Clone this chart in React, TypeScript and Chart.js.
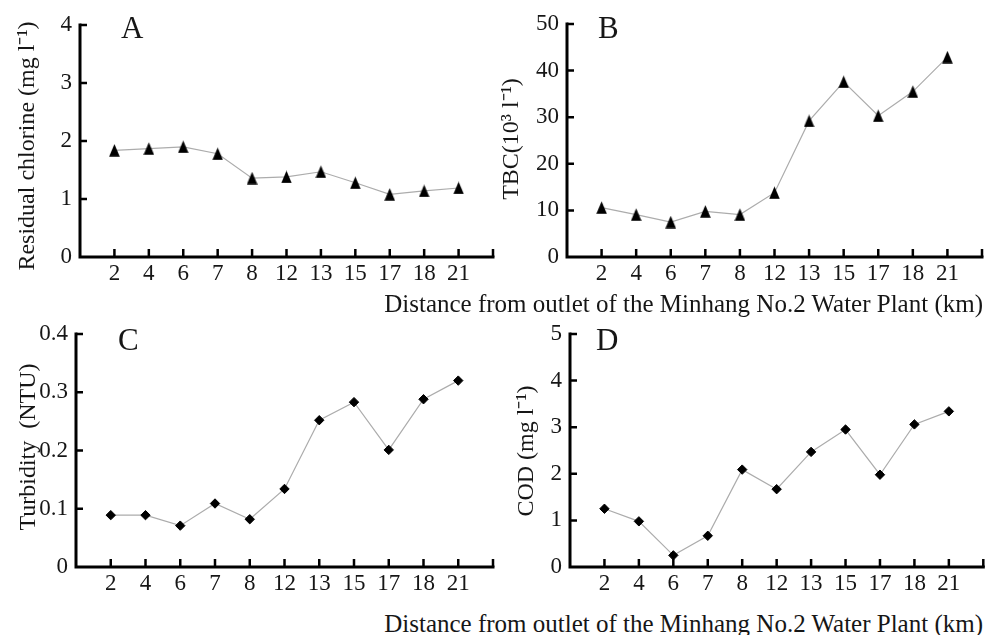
import React, { useEffect, useRef } from 'react';
import { Chart, registerables } from 'chart.js';

Chart.register(...registerables);

// x-axis categories: distance (km)
const categories = ['2', '4', '6', '7', '8', '12', '13', '15', '17', '18', '21'];

// series values
const residualChlorine = [1.84, 1.87, 1.9, 1.78, 1.36, 1.38, 1.47, 1.28, 1.08, 1.14, 1.19];
const tbc = [10.6, 9.1, 7.5, 9.8, 9.1, 13.8, 29.2, 37.6, 30.3, 35.5, 42.9];
const turbidity = [0.089, 0.089, 0.071, 0.109, 0.082, 0.134, 0.252, 0.283, 0.201, 0.288, 0.32];
const cod = [1.25, 0.98, 0.25, 0.67, 2.09, 1.67, 2.47, 2.95, 1.98, 3.06, 3.34];

const xTitle = 'Distance from outlet of the Minhang No.2 Water Plant (km)';

const FONT = '"Liberation Serif", "Times New Roman", serif';
const TEXT = '#161616';

type PanelCfg = {
  letter: string;
  yTitle: string;
  values: number[];
  yMax: number;
  yStep: number;
  marker: 'triangle' | 'rectRot';
  radius: number;
  box: { left: number; top: number; w: number; h: number };
  area: { left: number; top: number; right: number; bottom: number };
  letterPos: { x: number; y: number };
  titlePos: { x: number; y: number };
};

const panels: PanelCfg[] = [
  {
    letter: 'A', yTitle: 'Residual chlorine (mg l\u207B\u00B9)', values: residualChlorine,
    yMax: 4, yStep: 1, marker: 'triangle', radius: 6,
    box: { left: 0, top: 0, w: 500, h: 290 },
    area: { left: 80, top: 25, right: 497, bottom: 257 },
    letterPos: { x: 121, y: 38 }, titlePos: { x: 28, y: 146 },
  },
  {
    letter: 'B', yTitle: 'TBC(10\u00B3 l\u207B\u00B9)', values: tbc,
    yMax: 50, yStep: 10, marker: 'triangle', radius: 6,
    box: { left: 495, top: 0, w: 494, h: 290 },
    area: { left: 72, top: 24, right: 488, bottom: 257 },
    letterPos: { x: 103, y: 38 }, titlePos: { x: 17, y: 139 },
  },
  {
    letter: 'C', yTitle: 'Turbidity  (NTU)', values: turbidity,
    yMax: 0.4, yStep: 0.1, marker: 'rectRot', radius: 4.7,
    box: { left: 0, top: 300, w: 500, h: 300 },
    area: { left: 76, top: 34, right: 493, bottom: 267 },
    letterPos: { x: 118, y: 50 }, titlePos: { x: 29, y: 147 },
  },
  {
    letter: 'D', yTitle: 'COD (mg l\u207B\u00B9)', values: cod,
    yMax: 5, yStep: 1, marker: 'rectRot', radius: 4.7,
    box: { left: 495, top: 300, w: 494, h: 300 },
    area: { left: 75, top: 34, right: 490, bottom: 267 },
    letterPos: { x: 101, y: 50 }, titlePos: { x: 32, y: 151 },
  },
];

// tall isosceles triangle marker (shape only)
function makeTriangleMarker(): HTMLCanvasElement {
  const c = document.createElement('canvas');
  c.width = 11;
  c.height = 13;
  const g = c.getContext('2d')!;
  g.fillStyle = '#000';
  g.beginPath();
  g.moveTo(5.5, 0.3);
  g.lineTo(10.8, 12.7);
  g.lineTo(0.2, 12.7);
  g.closePath();
  g.fill();
  return c;
}

function Panel({ cfg }: { cfg: PanelCfg }) {
  const ref = useRef<HTMLCanvasElement | null>(null);

  useEffect(() => {
    if (!ref.current) return;
    const { box, area } = cfg;
    const pointStyle: any = cfg.marker === 'triangle' ? makeTriangleMarker() : 'rectRot';
    const decor = {
      id: 'decor',
      beforeDatasetsDraw(chart: any) {
        const { ctx, chartArea, scales } = chart;
        const { left, right, top, bottom } = chartArea;
        const x = scales.x;
        const y = scales.y;
        ctx.save();
        ctx.strokeStyle = '#000';
        ctx.lineWidth = 3;
        ctx.lineCap = 'square';
        ctx.beginPath();
        ctx.moveTo(left, top);
        ctx.lineTo(left, bottom);
        ctx.lineTo(right, bottom);
        ctx.stroke();
        ctx.lineWidth = 2.5;
        ctx.lineCap = 'butt';
        ctx.beginPath();
        const xs = [...x.ticks.map((t: any) => t.value), x.max];
        xs.forEach((v: number) => {
          const px = x.getPixelForValue(v);
          ctx.moveTo(px, bottom);
          ctx.lineTo(px, bottom - 8);
        });
        y.ticks.forEach((t: any) => {
          if (t.value === y.min) return;
          const py = y.getPixelForValue(t.value);
          ctx.moveTo(left, py);
          ctx.lineTo(left + 7, py);
        });
        ctx.stroke();
        ctx.restore();
      },
      afterDraw(chart: any) {
        const { ctx } = chart;
        ctx.save();
        ctx.fillStyle = TEXT;
        ctx.font = `31px ${FONT}`;
        ctx.textBaseline = 'alphabetic';
        ctx.textAlign = 'left';
        ctx.fillText(cfg.letter, cfg.letterPos.x, cfg.letterPos.y);
        ctx.restore();
        // rotated y-axis title
        ctx.save();
        ctx.fillStyle = TEXT;
        ctx.font = `24px ${FONT}`;
        ctx.textBaseline = 'middle';
        ctx.textAlign = 'center';
        ctx.translate(cfg.titlePos.x, cfg.titlePos.y);
        ctx.rotate(-Math.PI / 2);
        ctx.fillText(cfg.yTitle, 0, 0);
        ctx.restore();
      },
    };

    const chart = new Chart(ref.current, {
      type: 'line',
      data: {
        datasets: [
          {
            data: cfg.values.map((v, i) => ({ x: i + 1, y: v })),
            borderColor: '#acacac',
            borderWidth: 1.2,
            pointStyle,
            pointRadius: cfg.radius,
            pointBackgroundColor: '#000',
            pointBorderColor: '#000',
            pointBorderWidth: 1,
            tension: 0,
          },
        ],
      },
      options: {
        responsive: false,
        animation: false,
        events: [],
        layout: { padding: { top: area.top, right: box.w - area.right, left: 0, bottom: 0 } },
        plugins: { legend: { display: false }, tooltip: { enabled: false } },
        scales: {
          x: {
            type: 'linear',
            min: 0,
            max: 12,
            grid: { display: false, drawTicks: false },
            border: { display: false },
            afterBuildTicks: (s: any) => {
              s.ticks = categories.map((_, i) => ({ value: i + 1 }));
            },
            afterFit: (s: any) => {
              s.height = box.h - area.bottom;
            },
            ticks: {
              autoSkip: false,
              maxRotation: 0,
              minRotation: 0,
              padding: 3,
              color: TEXT,
              font: { family: FONT, size: 23 },
              callback: (v: any) => categories[Number(v) - 1] ?? '',
            },
          },
          y: {
            type: 'linear',
            min: 0,
            max: cfg.yMax,
            grid: { display: false, drawTicks: false },
            border: { display: false },
            afterFit: (s: any) => {
              s.width = area.left;
            },
            ticks: {
              stepSize: cfg.yStep,
              padding: 8,
              color: TEXT,
              font: { family: FONT, size: 23 },
            },
          },
        },
      },
      plugins: [decor],
    });
    return () => chart.destroy();
  }, [cfg]);

  const { box } = cfg;
  return (
    <canvas
      ref={ref}
      width={box.w}
      height={box.h}
      style={{ position: 'absolute', left: box.left, top: box.top, width: box.w, height: box.h }}
    />
  );
}

export default function App() {
  const titleStyle: React.CSSProperties = {
    position: 'absolute',
    right: 6,
    fontFamily: FONT,
    fontSize: 25,
    lineHeight: '25px',
    color: TEXT,
    whiteSpace: 'nowrap',
  };
  return (
    <div
      style={{
        position: 'absolute',
        left: 0,
        top: 0,
        width: 989,
        height: 635,
        overflow: 'hidden',
        background: '#fff',
      }}
    >
      {panels.map((p) => (
        <Panel key={p.letter} cfg={p} />
      ))}
      <div style={{ ...titleStyle, top: 291 }}>{xTitle}</div>
      <div style={{ ...titleStyle, top: 611 }}>{xTitle}</div>
    </div>
  );
}
